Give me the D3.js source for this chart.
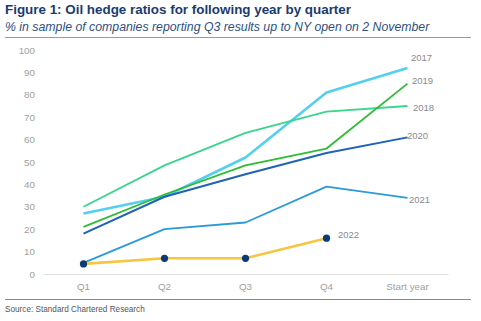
<!DOCTYPE html>
<html>
<head>
<meta charset="utf-8">
<script src="https://cdn.jsdelivr.net/npm/d3@7"></script>
<style>
  body { margin: 0; background: #fff; }
  svg { display: block; font-family: Arial, "Liberation Sans", sans-serif; }
</style>
</head>
<body>
<svg id="chart" width="481" height="321"></svg>
<script>
// hedge ratio (%) by quarter, one series per year
var quarters = ["Q1", "Q2", "Q3", "Q4", "Start year"];
var yTicks = [0, 10, 20, 30, 40, 50, 60, 70, 80, 90, 100];
var v2017 = [27, 34.5, 52, 81, 92];
var v2018 = [30, 48.5, 63, 72.5, 75];
var v2019 = [21, 35.5, 48.5, 56, 85];
var v2020 = [18, 34.5, 44.5, 54, 61];
var v2021 = [5, 20, 23, 39, 34];
var v2022 = [4.5, 7, 7, 16];

var series = [
  { name: "2017", values: v2017, color: "#52d0ee", width: 2.6, lx: 411, ly: -7 },
  { name: "2018", values: v2018, color: "#38d58c", width: 1.8, lx: 413, ly: 5 },
  { name: "2019", values: v2019, color: "#2cbd34", width: 1.8, lx: 412, ly: 0 },
  { name: "2020", values: v2020, color: "#1f62b8", width: 2, lx: 407, ly: 2 },
  { name: "2021", values: v2021, color: "#2b9ad8", width: 1.8, lx: 409, ly: 5 },
  { name: "2022", values: v2022, color: "#f6c641", width: 2.6, lx: 338, ly: 0 }
];

var svg = d3.select("#chart");

svg.append("text").attr("x", 5).attr("y", 14)
  .attr("font-size", 13.4).attr("font-weight", "bold").attr("fill", "#1b3b6f")
  .text("Figure 1: Oil hedge ratios for following year by quarter");
svg.append("text").attr("x", 5).attr("y", 31)
  .attr("font-size", 12.3).attr("font-style", "italic").attr("fill", "#2f4f80")
  .text("% in sample of companies reporting Q3 results up to NY open on 2 November");
svg.append("line").attr("x1", 5).attr("x2", 471).attr("y1", 37.5).attr("y2", 37.5)
  .attr("stroke", "#9a9a9a").attr("stroke-width", 1);

var x = d3.scaleBand().domain(quarters).range([43, 448]);
var y = d3.scaleLinear().domain([0, 100]).range([274, 50]);
var cx = function(i) { return x(quarters[i]) + x.bandwidth() / 2; };

// y axis labels only
var yAxis = svg.append("g").attr("transform", "translate(35,0)")
  .call(d3.axisLeft(y).tickValues(yTicks).tickSize(0).tickPadding(0));
yAxis.select(".domain").remove();
yAxis.selectAll("text").attr("font-size", 9.8).attr("fill", "#a0a0a0")
  .attr("font-family", "Arial, 'Liberation Sans', sans-serif");

// x axis with light baseline
var xAxis = svg.append("g").attr("transform", "translate(0,274)")
  .call(d3.axisBottom(x).tickSize(0).tickPadding(9));
xAxis.select(".domain").attr("stroke", "#e0e0e0");
xAxis.selectAll("text").attr("font-size", 9.8).attr("fill", "#a0a0a0")
  .attr("font-family", "Arial, 'Liberation Sans', sans-serif");

var line = d3.line().x(function(d, i) { return cx(i); }).y(function(d) { return y(d); });

series.forEach(function(s) {
  svg.append("path").datum(s.values)
    .attr("d", line).attr("fill", "none")
    .attr("stroke", s.color).attr("stroke-width", s.width)
    .attr("stroke-linejoin", "round");
  var last = s.values.length - 1;
  svg.append("text")
    .attr("x", s.lx).attr("y", y(s.values[last]) + s.ly)
    .attr("font-size", 9.5).attr("fill", "#8a8a8a")
    .text(s.name);
});

// markers on the current year
svg.selectAll("circle.pt").data(v2022).enter().append("circle")
  .attr("class", "pt")
  .attr("cx", function(d, i) { return cx(i); })
  .attr("cy", function(d) { return y(d); })
  .attr("r", 3.6).attr("fill", "#0b3a78");

svg.append("line").attr("x1", 5).attr("x2", 471).attr("y1", 299.5).attr("y2", 299.5)
  .attr("stroke", "#8a8a8a").attr("stroke-width", 1);
svg.append("text").attr("x", 5).attr("y", 312)
  .attr("font-size", 8.2).attr("fill", "#555")
  .text("Source: Standard Chartered Research");
</script>
</body>
</html>
